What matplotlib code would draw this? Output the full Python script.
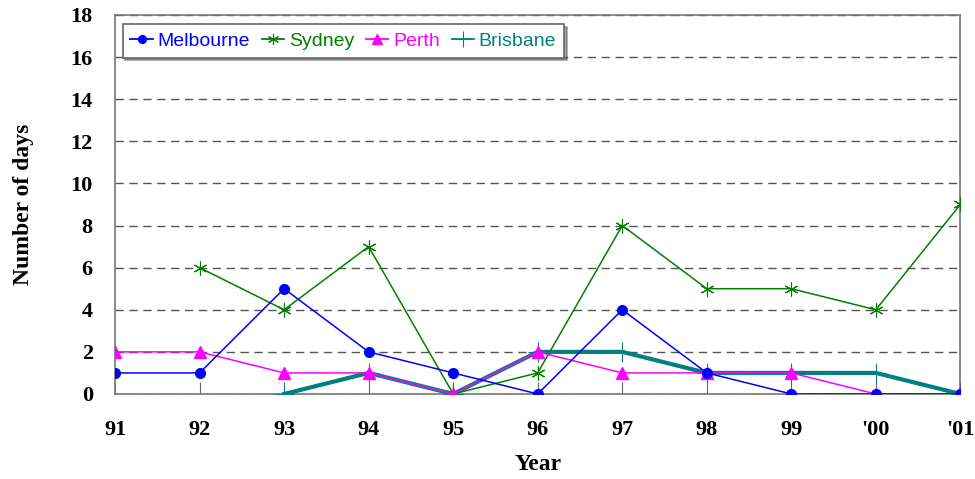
import matplotlib
matplotlib.use("Agg")
import matplotlib.pyplot as plt
from matplotlib.lines import Line2D
import numpy as np

years = ["91", "92", "93", "94", "95", "96", "97", "98", "99", "'00", "'01"]
melbourne = [1, 1, 5, 2, 1, 0, 4, 1, 0, 0, 0]
sydney = [None, 6, 4, 7, 0, 1, 8, 5, 5, 4, 9]
perth = [2, 2, 1, 1, 0, 2, 1, 1, 1, 0, 0]
brisbane = [None, None, 0, 1, 0, 2, 2, 1, 1, 1, 0]
y_ticks = [0, 2, 4, 6, 8, 10, 12, 14, 16, 18]

def as_array(vals):
    return np.array([np.nan if v is None else v for v in vals], dtype=float)

fig = plt.figure(figsize=(9.75, 4.79), dpi=100)
ax = fig.add_axes([0.118, 0.1775, 0.867, 0.7912])
x = np.arange(len(years))

styles = {
    "Melbourne": dict(color="#0000FF", marker="o", ms=7),
    "Sydney": dict(color="#008000", marker=(6, 2, 0), ms=10, mew=0.8),
    "Perth": dict(color="#FF00FF", marker="^", ms=9),
    "Brisbane": dict(color="#008080", marker="+", ms=14, mew=0.8),
}

ax.plot(x, as_array(brisbane), lw=3, zorder=3, **styles["Brisbane"])
ax.plot(x, as_array(sydney), lw=1.1, zorder=4, **styles["Sydney"])
ax.plot(x, as_array(perth), lw=1.1, zorder=5, **styles["Perth"])
ax.plot(x, as_array(melbourne), lw=1.1, zorder=6, **styles["Melbourne"])

ax.set_xlim(0, 10)
ax.set_ylim(0, 18)
ax.set_xticks(x)
ax.set_xticklabels(years)
ax.set_yticks(y_ticks)
ax.yaxis.grid(True, color="#555555", ls=(0, (6, 4)), lw=1)
ax.set_axisbelow(True)
ax.tick_params(axis="x", direction="in", length=9, color="#666666", pad=19)
ax.tick_params(axis="y", length=0, pad=16)
for s in ax.spines.values():
    s.set_color("#777777")
    s.set_linewidth(1.2)
for lab in ax.get_xticklabels() + ax.get_yticklabels():
    lab.set_fontfamily("Liberation Serif")
    lab.set_fontweight("bold")
    lab.set_fontsize(16)

ax.set_xlabel("Year", fontfamily="Liberation Serif", fontweight="bold", fontsize=17, labelpad=10)
ax.set_ylabel("Number of days", fontfamily="Liberation Serif", fontweight="bold", fontsize=17, labelpad=26)

names = ["Melbourne", "Sydney", "Perth", "Brisbane"]
legend_handles = []
for n in names:
    st = dict(styles[n])
    st["ms"] = st["ms"] * 0.8
    legend_handles.append(Line2D([], [], lw=1.3, **st))
leg = ax.legend(legend_handles, names,
                loc="upper left", bbox_to_anchor=(0.009, 0.975), ncol=4,
                prop={"family": "Liberation Sans", "size": 14},
                frameon=True, fancybox=False, shadow=True, edgecolor="#666666",
                handlelength=1.15, handletextpad=0.25, columnspacing=0.6,
                borderpad=0.4, borderaxespad=0)
leg.get_frame().set_linewidth(1.2)
for txt, n in zip(leg.get_texts(), names):
    txt.set_color(styles[n]["color"])

fig.savefig("out.png", dpi=100)
